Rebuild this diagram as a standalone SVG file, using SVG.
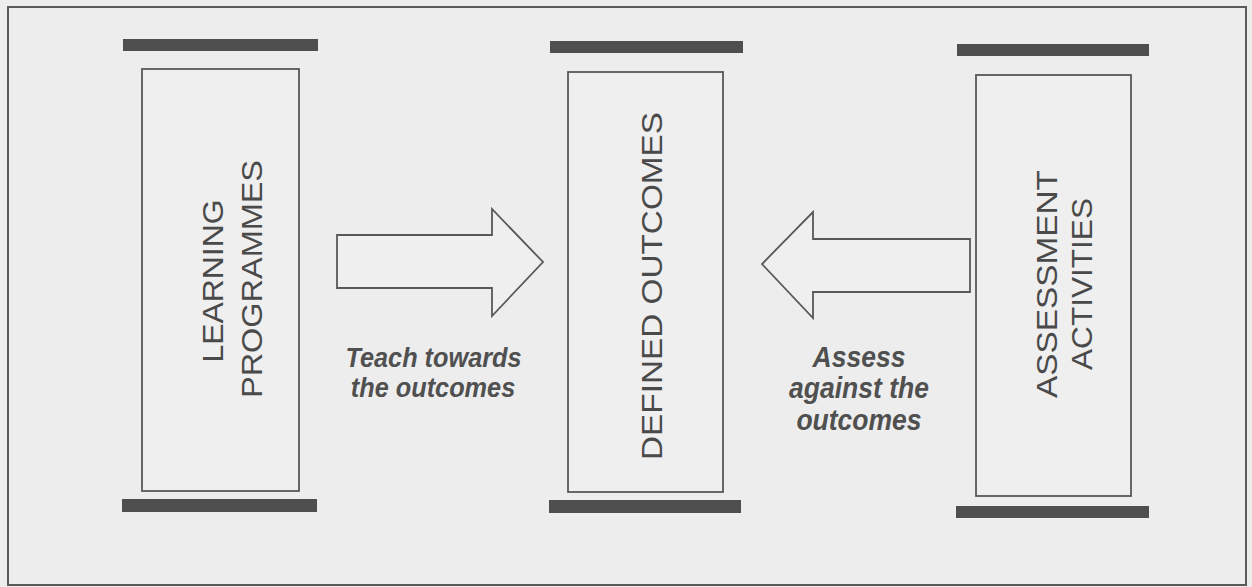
<svg xmlns="http://www.w3.org/2000/svg" width="1252" height="587" viewBox="0 0 1252 587">
  <style>
    .bg { fill: #ededed; }
    .frame { fill: none; stroke: #5a5a5a; stroke-width: 2; }
    .bar { fill: #4f4f4f; }
    .box { fill: #efefef; stroke: #585858; stroke-width: 1.8; }
    .arrow { fill: #efefef; stroke: #585858; stroke-width: 1.8; stroke-linejoin: miter; }
    .vt { font-family: "Liberation Sans", Arial, sans-serif; font-size: 30px; fill: #4a4a4a; text-anchor: middle; }
    .lbl { font-family: "Liberation Sans", Arial, sans-serif; font-weight: bold; font-style: italic; fill: #505050; text-anchor: middle; }
  </style>
  <rect class="bg" x="0" y="0" width="1252" height="587"/>
  <rect class="frame" x="8" y="7" width="1238" height="578"/>

  <g id="node-learning">
    <rect class="bar" x="123" y="39" width="195" height="12"/>
    <rect class="box" x="142" y="69" width="157" height="422"/>
    <rect class="bar" x="122" y="499" width="195" height="13"/>
    <text class="vt" transform="rotate(-90)" x="-281" y="223" textLength="163" lengthAdjust="spacingAndGlyphs">LEARNING</text>
    <text class="vt" transform="rotate(-90)" x="-279" y="262" textLength="238" lengthAdjust="spacingAndGlyphs">PROGRAMMES</text>
  </g>

  <g id="node-outcomes">
    <rect class="bar" x="550" y="41" width="193" height="12"/>
    <rect class="box" x="568" y="72" width="155" height="420"/>
    <rect class="bar" x="549" y="500" width="192" height="13"/>
    <text class="vt" style="font-size:29px" transform="rotate(-90)" x="-286" y="662" textLength="348" lengthAdjust="spacingAndGlyphs">DEFINED OUTCOMES</text>
  </g>

  <g id="node-assessment">
    <rect class="bar" x="957" y="44" width="192" height="12"/>
    <rect class="box" x="976" y="75" width="155" height="421"/>
    <rect class="bar" x="956" y="506" width="193" height="12"/>
    <text class="vt" transform="rotate(-90)" x="-284" y="1057" textLength="228" lengthAdjust="spacingAndGlyphs">ASSESSMENT</text>
    <text class="vt" transform="rotate(-90)" x="-284" y="1092" textLength="172" lengthAdjust="spacingAndGlyphs">ACTIVITIES</text>
  </g>

  <g id="connectors">
    <polygon class="arrow" points="337,235 492,235 492,209 543,262 492,316 492,288 337,288"/>
    <polygon class="arrow" points="970,239 813,239 813,212 762,264 813,318 813,292 970,292"/>
    <text class="lbl" style="font-size:25.3px" transform="translate(433.5,367) scale(1,1.12)">Teach towards</text>
    <text class="lbl" style="font-size:25.3px" transform="translate(433,397) scale(1,1.12)">the outcomes</text>
    <text class="lbl" style="font-size:26.5px" transform="translate(859,367) scale(1,1.12)">Assess</text>
    <text class="lbl" style="font-size:26.5px" transform="translate(859,398) scale(1,1.12)">against the</text>
    <text class="lbl" style="font-size:26.5px" transform="translate(859,430) scale(1,1.12)">outcomes</text>
  </g>
</svg>
